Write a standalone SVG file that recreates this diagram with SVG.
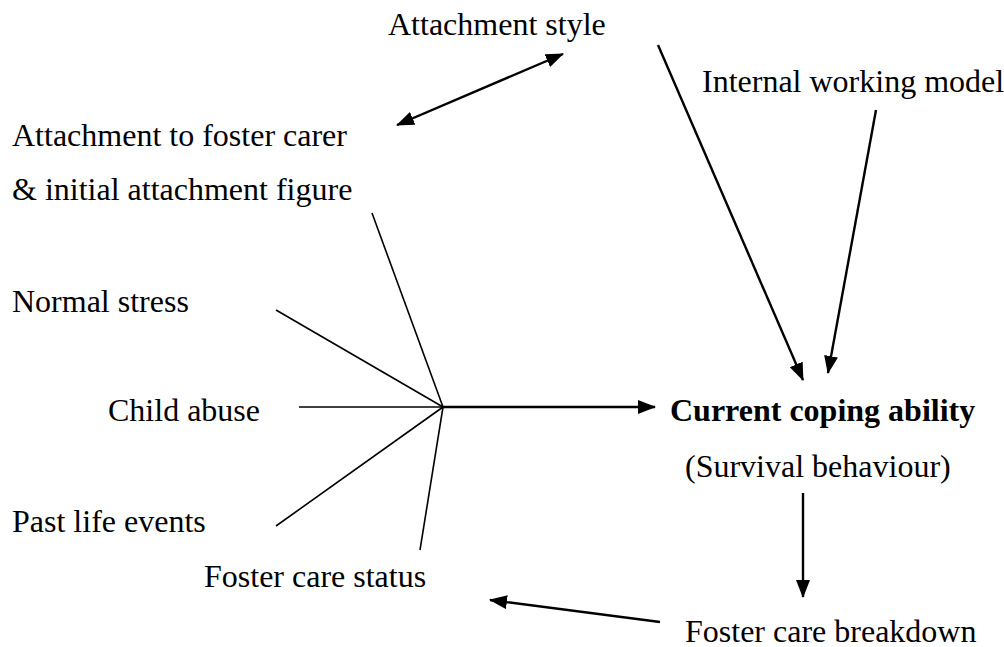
<svg xmlns="http://www.w3.org/2000/svg" width="1004" height="647" viewBox="0 0 1004 647">
  <style>
    .lbl { font-family: "Liberation Serif", "Times New Roman", serif; font-size: 32px; fill: #000; }
    .bold { font-weight: bold; }
    .arrow { stroke: #000; stroke-width: 2.4; fill: none; marker-end: url(#head); }
    .both { marker-start: url(#head); }
    .spoke { stroke: #000; stroke-width: 1.6; fill: none; }
  </style>
  <defs>
    <marker id="head" markerUnits="userSpaceOnUse" markerWidth="20" markerHeight="16" refX="17" refY="7" orient="auto-start-reverse">
      <path d="M0,0 L18,7 L0,14 z" fill="#000"/>
    </marker>
  </defs>
  <rect width="1004" height="647" fill="#fff"/>

  <g id="attachment-style"><text class="lbl" x="388" y="35">Attachment style</text></g>
  <g id="internal-working-model"><text class="lbl" x="702" y="92">Internal working model</text></g>
  <g id="attachment-foster-carer">
    <text class="lbl" x="12" y="146">Attachment to foster carer</text>
    <text class="lbl" x="12" y="200">&amp; initial attachment figure</text>
  </g>
  <g id="normal-stress"><text class="lbl" x="12" y="312">Normal stress</text></g>
  <g id="child-abuse"><text class="lbl" x="108" y="421">Child abuse</text></g>
  <g id="past-life-events"><text class="lbl" x="12" y="532">Past life events</text></g>
  <g id="foster-care-status"><text class="lbl" x="204" y="587">Foster care status</text></g>
  <g id="current-coping">
    <text class="lbl bold" x="670" y="421">Current coping ability</text>
    <text class="lbl" x="685" y="477">(Survival behaviour)</text>
  </g>
  <g id="foster-care-breakdown"><text class="lbl" x="685" y="642">Foster care breakdown</text></g>

  <g id="connectors">
    <!-- influences converging on the hub -->
    <line class="spoke" x1="372" y1="213" x2="443" y2="407"/>
    <line class="spoke" x1="276" y1="310" x2="443" y2="407"/>
    <line class="spoke" x1="299" y1="407" x2="443" y2="407"/>
    <line class="spoke" x1="276" y1="526" x2="443" y2="407"/>
    <line class="spoke" x1="420" y1="550" x2="443" y2="407"/>
    <!-- hub to current coping ability -->
    <line class="arrow" x1="443" y1="407" x2="655" y2="407"/>
    <!-- attachment style <-> attachment to foster carer -->
    <line class="arrow both" x1="397" y1="125" x2="563" y2="54"/>
    <line class="arrow" x1="658" y1="45" x2="803" y2="380"/>
    <line class="arrow" x1="876" y1="110" x2="828" y2="373"/>
    <line class="arrow" x1="803" y1="493" x2="803" y2="597"/>
    <line class="arrow" x1="660" y1="622" x2="490" y2="600"/>
  </g>
</svg>
